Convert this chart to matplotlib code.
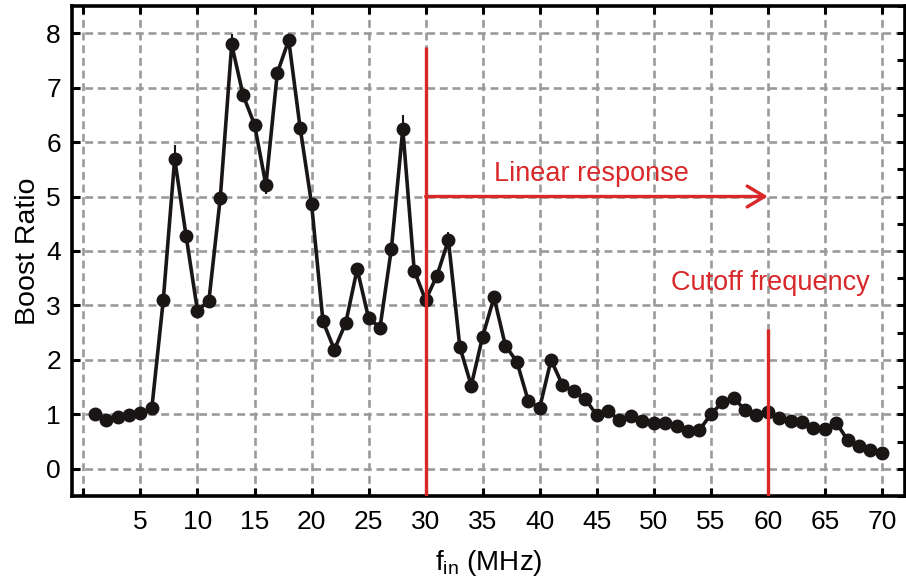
import numpy as np
import matplotlib
matplotlib.use("Agg")
import matplotlib.pyplot as plt

plt.rcParams['font.family'] = ['Liberation Sans', 'DejaVu Sans']
plt.rcParams['mathtext.fontset'] = 'custom'
plt.rcParams['mathtext.rm'] = 'Liberation Sans'

# input frequency (MHz) and measured boost ratio
freq = np.arange(1, 71)
boost = [1.00, 0.89, 0.96, 0.99, 1.02, 1.12, 3.10, 5.69, 4.28, 2.90,
         3.09, 4.98, 7.79, 6.86, 6.32, 5.21, 7.27, 7.87, 6.26, 4.87,
         2.71, 2.19, 2.68, 3.67, 2.77, 2.59, 4.04, 6.24, 3.64, 3.10,
         3.55, 4.20, 2.24, 1.53, 2.43, 3.15, 2.26, 1.97, 1.25, 1.12,
         2.00, 1.54, 1.43, 1.28, 0.99, 1.07, 0.89, 0.97, 0.88, 0.84,
         0.85, 0.78, 0.70, 0.71, 1.00, 1.22, 1.31, 1.08, 0.99, 1.05,
         0.94, 0.88, 0.86, 0.76, 0.74, 0.85, 0.53, 0.43, 0.34, 0.30]
# small error bars, visible only on the peaks
err = np.full(len(freq), 0.05)
err[[7, 12, 15, 17, 27, 31]] = [0.25, 0.19, 0.16, 0.12, 0.25, 0.14]

linear_start, cutoff = 30, 60
red = '#d8282a'

fig = plt.figure(figsize=(9.06, 5.81), dpi=100)
ax = fig.add_axes([0.0795, 0.146, 0.919, 0.844])

ax.errorbar(freq, boost, yerr=err, color='#1a1616', lw=2.6, marker='o',
            ms=9, elinewidth=1.5, capsize=0, zorder=3)

# annotations
ax.vlines(linear_start, -0.5, 7.75, color=red, lw=2.4, zorder=4)
ax.vlines(cutoff, -0.5, 2.57, color=red, lw=2.4, zorder=4)
ax.annotate('', xy=(cutoff, 5), xytext=(linear_start, 5),
            arrowprops=dict(arrowstyle='->,head_length=0.5,head_width=0.3',
                            color=red, lw=2.4, mutation_scale=25,
                            shrinkA=0, shrinkB=0), zorder=4)
ax.text(44.5, 5.42, 'Linear response', color=red, fontsize=19.5,
        ha='center', va='center')
ax.text(60.2, 3.42, 'Cutoff frequency', color=red, fontsize=19.5,
        ha='center', va='center')

ax.set_xlim(-1, 72)
ax.set_ylim(-0.5, 8.5)
xt = np.arange(0, 71, 5)
ax.set_xticks(xt)
ax.set_xticklabels([''] + [str(v) for v in xt[1:]])
ax.set_yticks(np.arange(0, 9))
ax.set_yticks(np.arange(-0.5, 8.6, 0.5), minor=True)

ax.tick_params(which='major', direction='in', length=6, width=2.2,
               top=True, right=True, labelsize=19, pad=8)
ax.tick_params(which='minor', direction='in', length=6, width=2.2,
               left=False, right=True, bottom=False, top=False)
ax.tick_params(axis='x', pad=10)
for s in ax.spines.values():
    s.set_linewidth(2.6)

ax.grid(True, which='major', color='#9a9a9a', ls=(0, (3, 1.8)), lw=1.9, zorder=0)
ax.set_axisbelow(True)

ax.set_xlabel(r'f$_{\rm in}$ (MHz)', fontsize=20, labelpad=10)
ax.set_ylabel('Boost Ratio', fontsize=20.5, labelpad=4)

fig.savefig('out.png', dpi=100)
